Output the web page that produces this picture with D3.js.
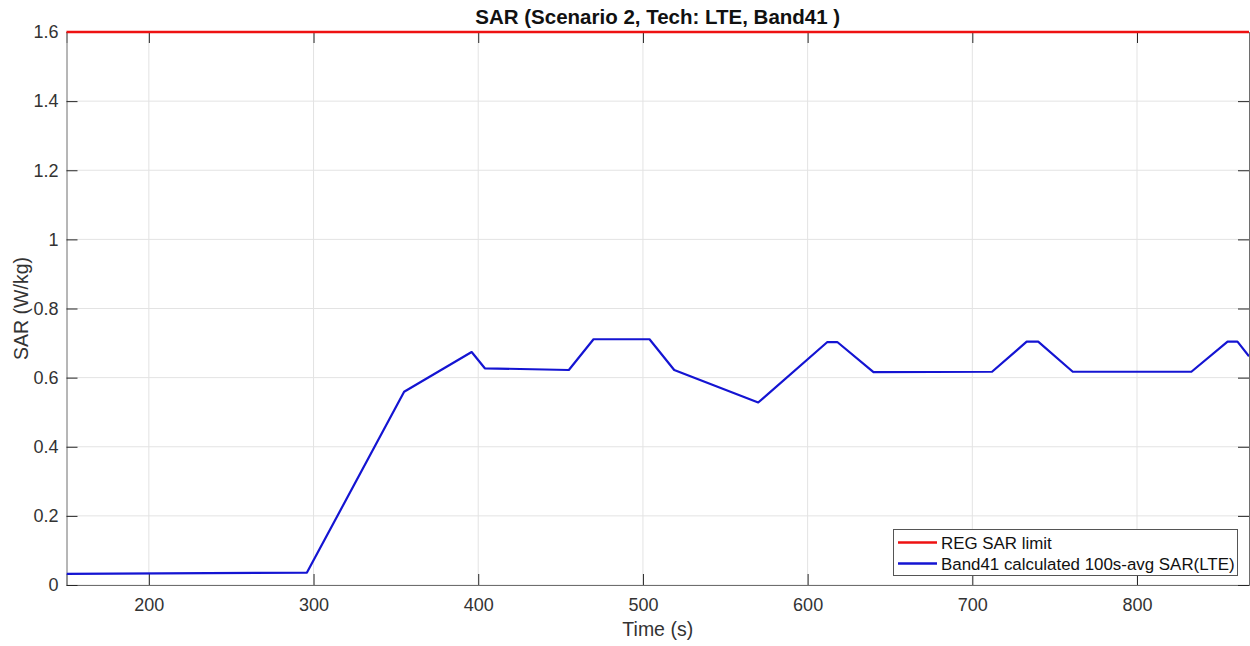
<!DOCTYPE html>
<html><head><meta charset="utf-8">
<script src="https://cdn.jsdelivr.net/npm/d3@7"></script>
<style>body{margin:0;background:#fff}svg{display:block;font-family:"Liberation Sans",Arial,sans-serif}</style>
</head><body><svg id="c" width="1250" height="646"></svg>
<script>
const title = "SAR (Scenario 2, Tech: LTE, Band41 )";
const xLabel = "Time (s)";
const yLabel = "SAR (W/kg)";
const xTicks = [200, 300, 400, 500, 600, 700, 800];
const yTicks = [0, 0.2, 0.4, 0.6, 0.8, 1, 1.2, 1.4, 1.6];
const limitName = "REG SAR limit";
const sarName = "Band41 calculated 100s-avg SAR(LTE)";
const limitValue = 1.6;
const timeVals = [150, 296, 355, 396, 404, 455, 470, 504, 519, 570, 612, 618, 640, 712, 733, 740, 761, 833, 855, 861, 868];
const sarVals  = [0.032, 0.036, 0.559, 0.674, 0.627, 0.622, 0.711, 0.711, 0.622, 0.528, 0.703, 0.703, 0.616, 0.617, 0.704, 0.704, 0.617, 0.617, 0.704, 0.704, 0.662];

const svg = d3.select("#c");
const L = 66.5, R = 1249, T = 32, B = 585;
const x = d3.scaleLinear().domain([150, 868]).range([L, R]);
const y = d3.scaleLinear().domain([0, 1.6]).range([B, T]);
const axisCol = "#262626";

// grid
const g = svg.append("g");
g.selectAll(".gx").data(xTicks).join("line")
  .attr("x1", d => x(d)).attr("x2", d => x(d)).attr("y1", T).attr("y2", B)
  .attr("stroke", "#e3e3e3").attr("stroke-width", 1);
g.selectAll(".gy").data(yTicks).join("line")
  .attr("y1", d => y(d)).attr("y2", d => y(d)).attr("x1", L).attr("x2", R)
  .attr("stroke", "#e3e3e3").attr("stroke-width", 1);

// axes
const tl = 11;
const fmt = d => d3.format("")(d);
const xb = svg.append("g").attr("transform", `translate(0,${B})`)
  .call(d3.axisBottom(x).tickValues(xTicks).tickSize(-tl).tickPadding(13).tickFormat(fmt));
const xt = svg.append("g").attr("transform", `translate(0,${T})`)
  .call(d3.axisTop(x).tickValues(xTicks).tickSize(-tl).tickFormat(""));
const yl = svg.append("g").attr("transform", `translate(${L},0)`)
  .call(d3.axisLeft(y).tickValues(yTicks).tickSize(-tl).tickPadding(8).tickFormat(fmt));
const yr = svg.append("g").attr("transform", `translate(${R},0)`)
  .call(d3.axisRight(y).tickValues(yTicks).tickSize(-tl).tickFormat(""));
[xb, xt, yl, yr].forEach(a => {
  a.attr("font-size", 18).attr("font-family", "Liberation Sans, Arial, sans-serif");
  a.select(".domain").attr("stroke", "#6e6e6e").attr("stroke-width", 1);
  a.selectAll(".tick line").attr("stroke", axisCol).attr("stroke-width", 1);
  a.selectAll("text").attr("fill", "#333");
});

// lines
const line = d3.line().x(d => x(d[0])).y(d => y(d[1]));
svg.append("clipPath").attr("id", "cp").append("rect")
  .attr("x", L).attr("y", T - 3).attr("width", R - L).attr("height", B - T + 6);
svg.append("path").datum(x.domain().map(t => [t, limitValue])).attr("d", line)
  .attr("fill", "none").attr("stroke", "#ee1111").attr("stroke-width", 2.5);
svg.append("path").datum(timeVals.map((t, i) => [t, sarVals[i]])).attr("d", line)
  .attr("clip-path", "url(#cp)")
  .attr("fill", "none").attr("stroke", "#1414d2").attr("stroke-width", 2.2).attr("stroke-linejoin", "round");

// title & labels
svg.append("text").attr("x", (L + R) / 2).attr("y", 24).attr("text-anchor", "middle")
  .attr("font-weight", "bold").attr("font-size", 20.5).attr("fill", "#111").text(title);
svg.append("text").attr("x", (L + R) / 2).attr("y", 636).attr("text-anchor", "middle")
  .attr("font-size", 19.5).attr("fill", "#333").text(xLabel);
svg.append("text").attr("transform", `translate(28,${(T + B) / 2}) rotate(-90)`).attr("text-anchor", "middle")
  .attr("font-size", 19.5).attr("fill", "#333").text(yLabel);

// legend
const lg = svg.append("g");
lg.append("rect").attr("x", 893.5).attr("y", 529.5).attr("width", 344).attr("height", 46)
  .attr("fill", "#fff").attr("stroke", "#555").attr("stroke-width", 1);
const items = [[limitName, "#ee1111"], [sarName, "#1414d2"]];
items.forEach((it, i) => {
  const cy = 542.5 + i * 21;
  lg.append("line").attr("x1", 898).attr("x2", 937).attr("y1", cy).attr("y2", cy)
    .attr("stroke", it[1]).attr("stroke-width", 2.5);
  lg.append("text").attr("x", 941).attr("y", cy + 6).attr("font-size", 16.9).attr("fill", "#111").text(it[0]);
});
</script></body></html>
